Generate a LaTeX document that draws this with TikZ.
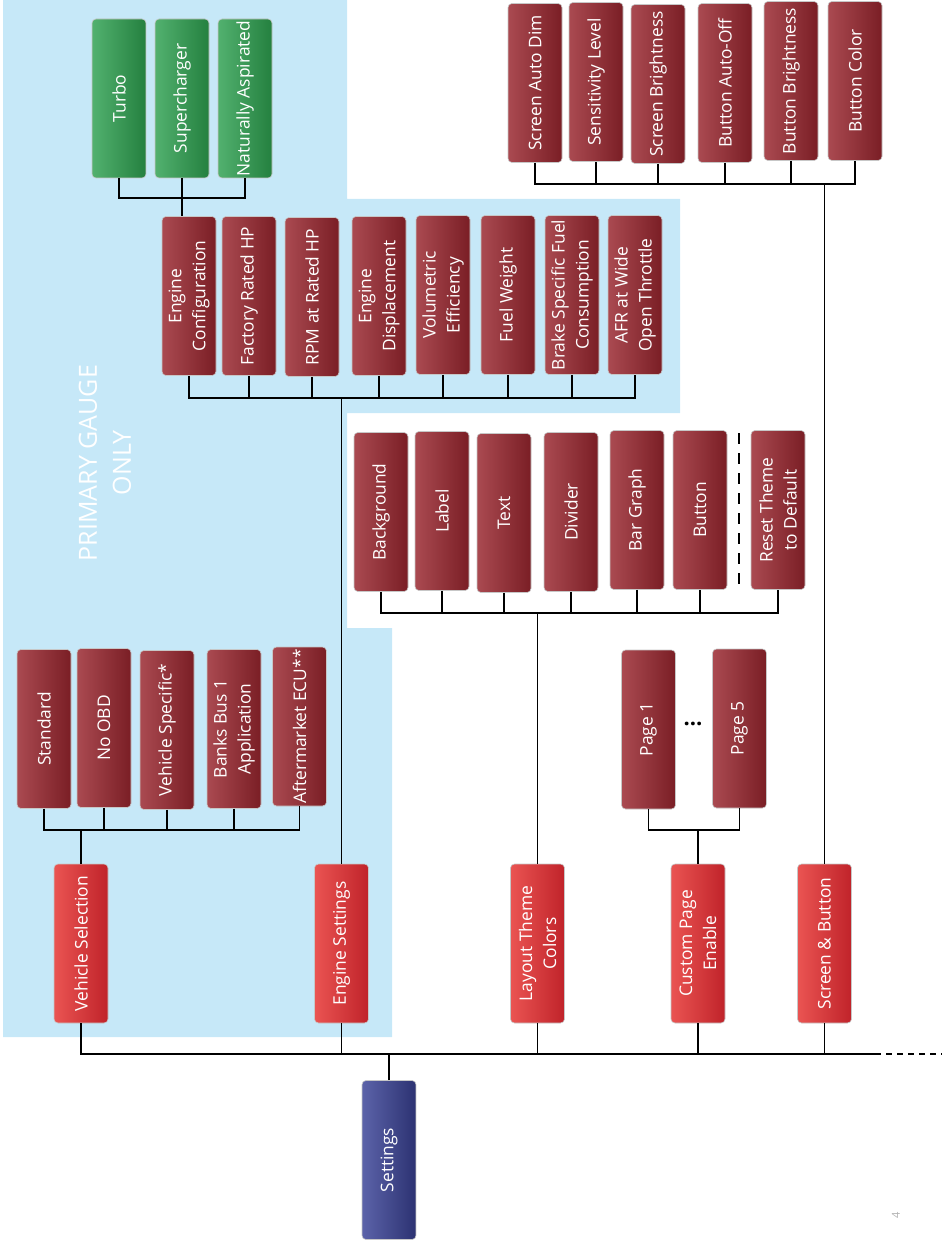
\documentclass[tikz,border=0pt]{standalone}
\usepackage{fontspec}
\setmainfont{Open Sans}
\definecolor{bgblue}{HTML}{C6E8F8}
\definecolor{dredL}{HTML}{AA4A51}
\definecolor{dredD}{HTML}{7A1E25}
\definecolor{bredL}{HTML}{EA5452}
\definecolor{bredD}{HTML}{C0232A}
\definecolor{grnL}{HTML}{52B16F}
\definecolor{grnD}{HTML}{24803F}
\definecolor{bluL}{HTML}{5C63A9}
\definecolor{bluD}{HTML}{2C3272}
\begin{document}
\begin{tikzpicture}[x=1pt,y=-1pt,
  box/.style={rotate=90, minimum width=159pt, minimum height=54pt, inner sep=0pt,
    rounded corners=4pt, draw=black!22, line width=0.6pt, text=white, align=center,
    font=\fontsize{17.4}{24}\selectfont},
  dred/.style={box, left color=dredL, right color=dredD},
  bred/.style={box, left color=bredL, right color=bredD},
  grn/.style={box, left color=grnL, right color=grnD},
  blu/.style={box, left color=bluL, right color=bluD},
  wire/.style={line width=1.8pt, black}]
\useasboundingbox (0,0) rectangle (942,1241);
\fill[bgblue] (3,0) -- (347,0) -- (347,199) -- (680,199) -- (680,413) -- (347,413)
  -- (347,628) -- (392,628) -- (392,1037) -- (3,1037) -- cycle;
\node[rotate=90, text=white, align=center, font=\fontsize{25}{34}\selectfont] (pg) at (105,463) {PRIMARY GAUGE\\ONLY};

% bus levels
\coordinate (busG) at (0,198);
\coordinate (busE) at (0,398);
\coordinate (busS) at (0,184);
\coordinate (busT) at (0,613);
\coordinate (busV) at (0,830);
\coordinate (busM) at (0,1054);
\coordinate (busEnd) at (875,1054);
\coordinate (busFar) at (942,1054);

% green
\node[grn] (turbo) at (119,98.5) {Turbo};
\node[grn] (sup) at (182,98.5) {Supercharger};
\node[grn] (nat) at (245,98.5) {Naturally Aspirated};

% engine parameters
\node[dred] (ec) at (189,296) {Engine\\Configuration};
\node[dred] (frhp) at (249,296) {Factory Rated HP};
\node[dred] (rpm) at (312,297) {RPM at Rated HP};
\node[dred] (ed) at (379,296) {Engine\\Displacement};
\node[dred] (ve) at (443,295) {Volumetric\\Efficiency};
\node[dred] (fw) at (508,295) {Fuel Weight};
\node[dred] (bsfc) at (572,295) {Brake Specific Fuel\\Consumption};
\node[dred] (afr) at (635,295) {AFR at Wide\\Open Throttle};

% screen & button children
\node[dred] (sad) at (535,83) {Screen Auto Dim};
\node[dred] (sens) at (596,82) {Sensitivity Level};
\node[dred] (sbr) at (658,84) {Screen Brightness};
\node[dred] (bao) at (725,83) {Button Auto-Off};
\node[dred] (bbr) at (791,81) {Button Brightness};
\node[dred] (bcol) at (855,81) {Button Color};

% theme children
\node[dred] (bgd) at (381,512) {Background};
\node[dred] (lab) at (442,511) {Label};
\node[dred] (txt) at (504,513) {Text};
\node[dred] (div) at (571,512) {Divider};
\node[dred] (bar) at (637,510) {Bar Graph};
\node[dred] (btn) at (700,510) {Button};
\node[dred] (rst) at (778,510) {Reset Theme\\to Default};
\coordinate (dashTop) at (739,433);
\coordinate (dashBot) at (739,592);

% vehicle children
\node[dred] (std) at (44,729) {Standard};
\node[dred] (nobd) at (104,728) {No OBD};
\node[dred] (vsp) at (167,730) {Vehicle Specific*};
\node[dred] (bb1) at (234,729) {Banks Bus 1\\Application};
\node[dred] (aecu) at (299.5,726.5) {Aftermarket ECU**};

% pages
\node[dred] (p1) at (648.5,729.5) {Page 1};
\node[dred] (p5) at (739.5,728.5) {Page 5};
\node[font=\fontsize{22}{22}\selectfont\bfseries] (dots) at (693,724) {...};

% main row
\node[bred] (vs) at (81,943.5) {Vehicle Selection};
\node[bred] (es) at (341.5,943.5) {Engine Settings};
\node[bred] (ltc) at (537.5,943.5) {Layout Theme\\Colors};
\node[bred] (cpe) at (698,943.5) {Custom Page\\Enable};
\node[bred] (sb) at (824.5,943.5) {Screen \& Button};

\node[blu] (set) at (389,1160) {Settings};

\node[rotate=90, text=black!30, font=\fontsize{11}{11}\selectfont] (pnum) at (896,1215) {4};

% connectors: green
\draw[wire] (turbo.west) -- (turbo.west |- busG) -- (nat.west |- busG) -- (nat.west);
\draw[wire] (sup.west) -- (sup.west |- ec.east);

% engine params
\draw[wire] (ec.west) -- (ec.west |- busE) -- (afr.west |- busE) -- (afr.west);
\foreach \n in {frhp,rpm,ed,ve,fw,bsfc} \draw[wire] (\n.west) -- (\n.west |- busE);
\draw[wire] (es.east) -- (es.east |- busE);

% screen & button
\draw[wire] (sad.west) -- (sad.west |- busS) -- (bcol.west |- busS) -- (bcol.west);
\foreach \n in {sens,sbr,bao,bbr} \draw[wire] (\n.west) -- (\n.west |- busS);
\draw[wire] (sb.east) -- (sb.east |- busS);

% theme
\draw[wire] (bgd.west) -- (bgd.west |- busT) -- (rst.west |- busT) -- (rst.west);
\foreach \n in {lab,txt,div,bar,btn} \draw[wire] (\n.west) -- (\n.west |- busT);
\draw[wire] (ltc.east) -- (ltc.east |- busT);
\draw[line width=2.5pt, dash pattern=on 11pt off 9pt] (dashTop) -- (dashBot);

% vehicle
\draw[wire] (std.west) -- (std.west |- busV) -- (aecu.west |- busV) -- (aecu.west);
\foreach \n in {nobd,vsp,bb1} \draw[wire] (\n.west) -- (\n.west |- busV);
\draw[wire] (vs.east) -- (vs.east |- busV);

% pages
\draw[wire] (p1.west) -- (p1.west |- busV) -- (p5.west |- busV) -- (p5.west);
\draw[wire] (cpe.east) -- (cpe.east |- busV);

% main bus
\draw[wire] (vs.west) -- (vs.west |- busM) -- (busEnd);
\draw[wire, dash pattern=on 6pt off 5pt] (busEnd) -- (busFar);
\foreach \n in {es,ltc,cpe,sb} \draw[wire] (\n.west) -- (\n.west |- busM);
\draw[wire] (set.east) -- (set.east |- busM);
\end{tikzpicture}
\end{document}
